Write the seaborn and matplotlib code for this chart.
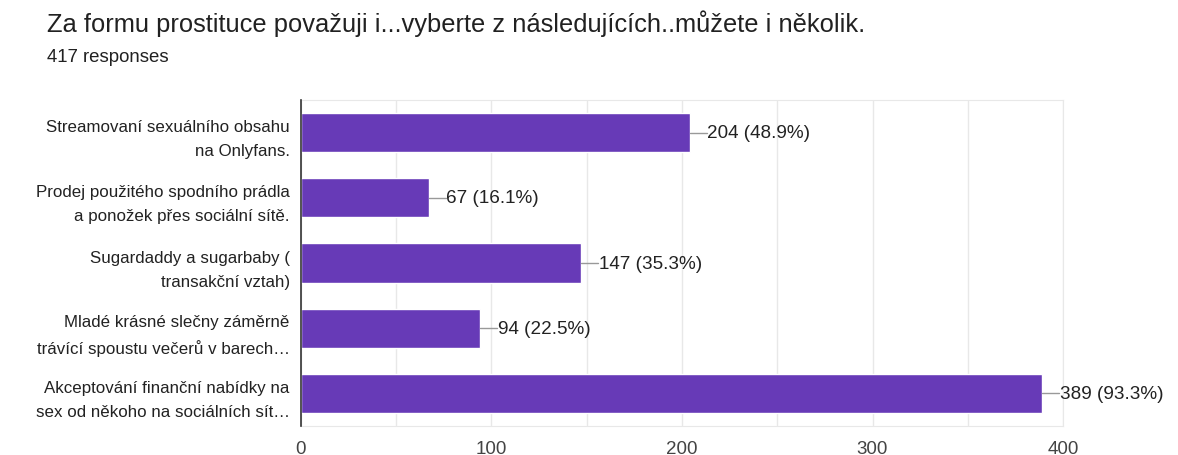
import matplotlib

matplotlib.use("Agg")
import matplotlib.pyplot as plt
import numpy as np
import pandas as pd
import seaborn as sns

title = "Za formu prostituce považuji i...vyberte z následujících..můžete i několik."
subtitle = "417 responses"
categories = [
    "Streamovaní sexuálního obsahu\nna Onlyfans.",
    "Prodej použitého spodního prádla\na ponožek přes sociální sítě.",
    "Sugardaddy a sugarbaby (\ntransakční vztah)",
    "Mladé krásné slečny záměrně\ntrávící spoustu večerů v barech…",
    "Akceptování finanční nabídky na\nsex od někoho na sociálních sít…",
]
counts = [204, 67, 147, 94, 389]
percents = [48.9, 16.1, 35.3, 22.5, 93.3]

df = pd.DataFrame({"cat": categories, "n": counts})

sns.set_style("white")
plt.rcParams["font.family"] = ["Liberation Sans", "DejaVu Sans"]

fig = plt.figure(figsize=(11.78, 4.56), dpi=100)
ax = fig.add_axes([0.2555, 0.0636, 0.6469, 0.7149])

sns.barplot(data=df, y="cat", x="n", orient="h", color="#673AB7",
            width=0.6, saturation=1, ax=ax, zorder=3)

ax.set_xlim(0, 400)
ax.set_ylim(len(categories) - 0.5, -0.5)
ax.set_xticks([0, 100, 200, 300, 400])
ax.set_xticks([50, 150, 250, 350], minor=True)
ax.grid(True, axis="x", which="both", color="#e8e8e8", linewidth=1, zorder=0)
ax.tick_params(axis="x", which="both", length=0, labelsize=13.5,
               labelcolor="#444444", pad=10)
ax.tick_params(axis="y", length=0, labelsize=12.2, labelcolor="#222222", pad=8)
for lab in ax.get_yticklabels():
    lab.set_horizontalalignment("right")
    lab.set_multialignment("right")
    lab.set_linespacing(1.75)
ax.set_xlabel("")
ax.set_ylabel("")

for s in ("top", "right", "bottom"):
    ax.spines[s].set_color("#e8e8e8")
ax.spines["left"].set_color("#333333")
ax.spines["left"].set_linewidth(1.2)
ax.spines["left"].set_zorder(4)

for i, (n, p) in enumerate(zip(counts, percents)):
    ax.plot([n, n + 9], [i, i], color="#999999", lw=1, zorder=4, clip_on=False)
    ax.text(n + 9.3, i, f"{n} ({p}%)", va="center", ha="left",
            fontsize=13.6, color="#222222")

fig.text(47 / 1178, 1 - 24 / 456, title, fontsize=18.4, color="#212121",
         va="center", ha="left")
fig.text(47 / 1178, 1 - 57 / 456, subtitle, fontsize=13.4, color="#212121",
         va="center", ha="left")

fig.savefig("out.png", dpi=100, facecolor="white")
plt.close(fig)
